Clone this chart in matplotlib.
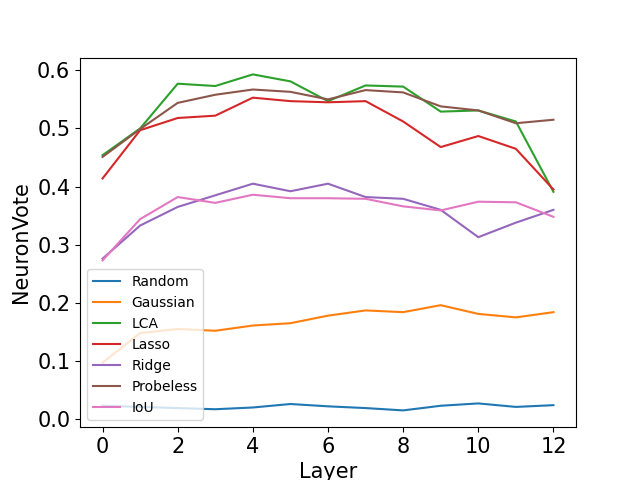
import numpy as np
import matplotlib
matplotlib.use("Agg")
import matplotlib.pyplot as plt

layers = np.arange(13)

random_vals = [0.023, 0.021, 0.019, 0.017, 0.020, 0.026, 0.022, 0.019, 0.015, 0.023, 0.027, 0.021, 0.024]
gaussian = [0.097, 0.148, 0.155, 0.152, 0.161, 0.165, 0.178, 0.187, 0.184, 0.196, 0.181, 0.175, 0.184]
lca = [0.454, 0.500, 0.577, 0.573, 0.593, 0.581, 0.547, 0.574, 0.572, 0.529, 0.531, 0.512, 0.391]
lasso = [0.414, 0.497, 0.518, 0.522, 0.553, 0.547, 0.545, 0.547, 0.512, 0.468, 0.487, 0.465, 0.395]
ridge = [0.276, 0.333, 0.365, 0.385, 0.405, 0.392, 0.405, 0.382, 0.379, 0.360, 0.313, 0.338, 0.360]
probeless = [0.451, 0.499, 0.544, 0.558, 0.567, 0.563, 0.550, 0.566, 0.562, 0.538, 0.531, 0.509, 0.515]
iou = [0.273, 0.344, 0.382, 0.372, 0.386, 0.380, 0.380, 0.379, 0.366, 0.359, 0.374, 0.373, 0.348]

series = [
    ("Random", random_vals),
    ("Gaussian", gaussian),
    ("LCA", lca),
    ("Lasso", lasso),
    ("Ridge", ridge),
    ("Probeless", probeless),
    ("IoU", iou),
]

fig, ax = plt.subplots(figsize=(6.4, 4.8), dpi=100)
for name, vals in series:
    ax.plot(layers, vals, label=name)

ax.set_xlabel("Layer", fontsize=15)
ax.set_ylabel("NeuronVote", fontsize=15)
ax.set_xticks([0, 2, 4, 6, 8, 10, 12])
ax.tick_params(labelsize=15)
ax.legend(loc="lower left")

fig.savefig("out.png", dpi=100)
